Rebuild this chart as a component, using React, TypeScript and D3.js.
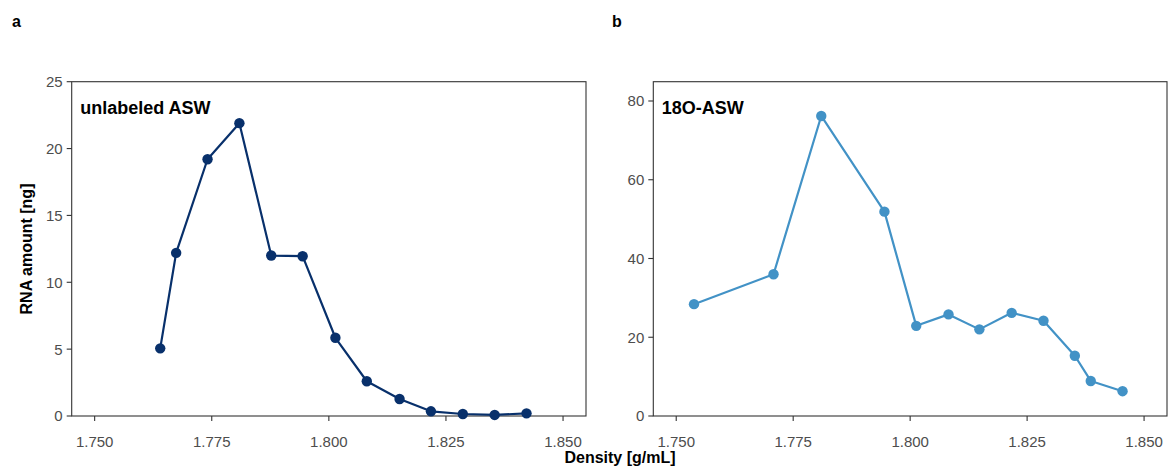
import React from "react";
import * as d3 from "d3";

const densityA = [1.764, 1.7674, 1.7741, 1.7809, 1.7877, 1.7944, 1.8014, 1.8081, 1.8151, 1.8218, 1.8286, 1.8354, 1.8422];
const rnaA = [5.06, 12.2, 19.2, 21.9, 12.0, 11.95, 5.85, 2.6, 1.27, 0.35, 0.15, 0.08, 0.2];

const densityB = [1.7538, 1.7708, 1.781, 1.7945, 1.8013, 1.8082, 1.8148, 1.8217, 1.8285, 1.8352, 1.8386, 1.8454];
const rnaB = [28.4, 36.0, 76.2, 51.9, 22.9, 25.8, 22.0, 26.2, 24.2, 15.3, 8.9, 6.3];

const xTicks = [1.75, 1.775, 1.8, 1.825, 1.85];
const yTicksA = [0, 5, 10, 15, 20, 25];
const yTicksB = [0, 20, 40, 60, 80];

const colorA = "#08306B";
const colorB = "#4292C6";
const FONT = "'Liberation Sans', Arial, Helvetica, sans-serif";

type PanelProps = {
  x0: number;
  x1: number;
  y0: number;
  y1: number;
  xs: number[];
  ys: number[];
  yMax: number;
  yTicks: number[];
  color: string;
  label: string;
};

function Panel({ x0, x1, y0, y1, xs, ys, yMax, yTicks, color, label }: PanelProps) {
  const x = d3.scaleLinear().domain([1.7451, 1.8549]).range([x0, x1]);
  const y = d3.scaleLinear().domain([0, yMax]).range([y1, y0]);
  const pts = xs.map((d, i) => [d, ys[i]] as [number, number]);
  const line = d3
    .line<[number, number]>()
    .x((d) => x(d[0]))
    .y((d) => y(d[1]));
  const fmt = d3.format(".3f");
  return (
    <g>
      <rect x={x0} y={y0} width={x1 - x0} height={y1 - y0} fill="white" stroke="#333333" strokeWidth={1.1} />
      {xTicks.map((t) => (
        <g key={"x" + t}>
          <line x1={x(t)} x2={x(t)} y1={y1} y2={y1 + 5} stroke="#333333" strokeWidth={1.1} />
          <text x={x(t)} y={y1 + 31} textAnchor="middle" fontSize={15} fill="#4D4D4D" fontFamily={FONT}>
            {fmt(t)}
          </text>
        </g>
      ))}
      {yTicks.map((t) => (
        <g key={"y" + t}>
          <line x1={x0 - 5} x2={x0} y1={y(t)} y2={y(t)} stroke="#333333" strokeWidth={1.1} />
          <text x={x0 - 9} y={y(t)} dy="0.36em" textAnchor="end" fontSize={15} fill="#4D4D4D" fontFamily={FONT}>
            {t}
          </text>
        </g>
      ))}
      <path d={line(pts) || ""} fill="none" stroke={color} strokeWidth={2.2} strokeLinejoin="round" />
      {pts.map((p, i) => (
        <circle key={i} cx={x(p[0])} cy={y(p[1])} r={5.2} fill={color} />
      ))}
      <text x={x0 + 8.5} y={y0 + 32} fontSize={18} fontWeight="bold" fill="#000" fontFamily={FONT}>
        {label}
      </text>
    </g>
  );
}

export default function App() {
  return (
    <svg width={1169} height={468} style={{ position: "absolute", left: 0, top: 0, background: "white" }}>
      <rect x={0} y={0} width={1169} height={468} fill="white" />
      <text x={12} y={27} fontSize={16} fontWeight="bold" fontFamily={FONT}>a</text>
      <text x={612} y={27} fontSize={16} fontWeight="bold" fontFamily={FONT}>b</text>
      <Panel x0={71.7} x1={586} y0={81.7} y1={416} xs={densityA} ys={rnaA} yMax={25} yTicks={yTicksA} color={colorA} label="unlabeled ASW" />
      <Panel x0={653.3} x1={1167} y0={81.7} y1={416} xs={densityB} ys={rnaB} yMax={84.9} yTicks={yTicksB} color={colorB} label="18O-ASW" />
      <text x={620} y={463} textAnchor="middle" fontSize={16} fontWeight="bold" fontFamily={FONT}>Density [g/mL]</text>
      <text transform="translate(32,249) rotate(-90)" textAnchor="middle" fontSize={16} fontWeight="bold" fontFamily={FONT}>RNA amount [ng]</text>
    </svg>
  );
}
